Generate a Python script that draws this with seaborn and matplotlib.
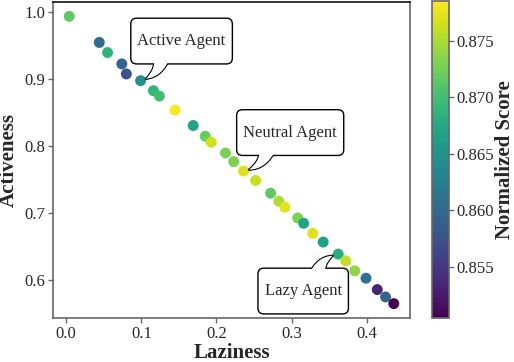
import numpy as np
import pandas as pd
import matplotlib
matplotlib.use("Agg")
import matplotlib.pyplot as plt
import seaborn as sns
from matplotlib.colors import Normalize
from matplotlib.cm import ScalarMappable

laziness = [0.004, 0.044, 0.055, 0.074, 0.080, 0.099, 0.116, 0.124, 0.145, 0.169,
            0.185, 0.193, 0.212, 0.223, 0.236, 0.252, 0.272, 0.283, 0.291, 0.308,
            0.316, 0.328, 0.342, 0.362, 0.372, 0.384, 0.399, 0.414, 0.425, 0.436]
activeness = [0.994, 0.955, 0.940, 0.923, 0.908, 0.898, 0.883, 0.875, 0.854, 0.831,
              0.815, 0.806, 0.790, 0.777, 0.763, 0.749, 0.730, 0.718, 0.709, 0.693,
              0.685, 0.670, 0.657, 0.639, 0.629, 0.614, 0.603, 0.586, 0.575, 0.565]
score = [0.8715, 0.8603, 0.8687, 0.8597, 0.8575, 0.8645, 0.8690, 0.8700, 0.8783, 0.8667,
         0.8720, 0.8765, 0.8729, 0.8730, 0.8770, 0.8760, 0.8715, 0.8750, 0.8772, 0.8730,
         0.8670, 0.8770, 0.8665, 0.8680, 0.8758, 0.8737, 0.8610, 0.8533, 0.8597, 0.8505]

annot_labels = ["Active Agent", "Neutral Agent", "Lazy Agent"]
annot_idx = [5, 14, 23]

vmin, vmax = 0.8505, 0.8785

df = pd.DataFrame({"Laziness": laziness, "Activeness": activeness, "Score": score})

sns.set_style("white")
plt.rcParams["font.family"] = ["Liberation Serif", "DejaVu Serif"]
plt.rcParams["mathtext.fontset"] = "stix"

fig = plt.figure(figsize=(5.14, 3.62), dpi=100)
ax = fig.add_axes([0.1031, 0.1215, 0.6946, 0.873])
cax = fig.add_axes([0.8405, 0.1215, 0.0321, 0.8757])

norm = Normalize(vmin=vmin, vmax=vmax)
sns.scatterplot(data=df, x="Laziness", y="Activeness", hue="Score", palette="viridis",
                hue_norm=norm, s=62, linewidth=0, legend=False, ax=ax, zorder=3)

ax.set_xlabel("Laziness", fontsize=15, fontweight="bold", labelpad=1)
ax.set_ylabel("Activeness", fontsize=15, fontweight="bold", labelpad=4)
ax.set_xticks([0.0, 0.1, 0.2, 0.3, 0.4])
ax.set_yticks([0.6, 0.7, 0.8, 0.9, 1.0])
ax.tick_params(axis="both", labelsize=12, length=3.5, width=1, color="#666666",
               direction="out", bottom=True, left=True, pad=2)
for side in ["left", "right", "bottom"]:
    ax.spines[side].set_color("#666666")
    ax.spines[side].set_linewidth(1.2)
ax.spines["top"].set_color("#111111")
ax.spines["top"].set_linewidth(1.2)

sm = ScalarMappable(norm=norm, cmap="viridis")
cb = fig.colorbar(sm, cax=cax)
cb.set_ticks([0.855, 0.860, 0.865, 0.870, 0.875])
cb.ax.tick_params(labelsize=12, length=3.5, width=1, color="#666666", pad=2)
cb.outline.set_edgecolor("#666666")
cb.outline.set_linewidth(1.2)
cb.set_label("Normalized Score", fontsize=15, fontweight="bold", labelpad=1)

text_offsets = [(29.5, 28.5), (33.6, 27.7), (-25.2, -26.6)]
conn = ["arc3,rad=-0.35", "arc3,rad=-0.35", "arc3,rad=-0.35"]
relpos = [(0.275, 0.06), (0.26, 0.06), (0.68, 0.94)]
box = "round,pad=0.4,rounding_size=0.35"
ls = 0.35
for lab, i, off, cs, rp in zip(annot_labels, annot_idx, text_offsets, conn, relpos):
    xy = (laziness[i], activeness[i])
    txt = "\n" + lab + "\n"
    ax.annotate(txt, xy=xy, xycoords="data",
                xytext=off, textcoords="offset points", fontsize=12,
                ha="center", va="center", linespacing=ls, zorder=5,
                bbox=dict(boxstyle=box, fc="white", ec="black", lw=1),
                arrowprops=dict(arrowstyle="wedge,tail_width=1.05", fc="white", ec="black",
                                lw=1.6, connectionstyle=cs, relpos=rp, patchA=None,
                                shrinkA=0, shrinkB=4))
    # white overlay of the tail base to merge it with the bubble
    ax.annotate(txt, xy=xy, xycoords="data", color="none",
                xytext=off, textcoords="offset points", fontsize=12,
                ha="center", va="center", linespacing=ls, zorder=6,
                bbox=dict(boxstyle=box, fc="none", ec="none", lw=1),
                arrowprops=dict(arrowstyle="wedge,tail_width=1.05", fc="white", ec="none",
                                lw=0, connectionstyle=cs, relpos=rp, patchA=None,
                                shrinkA=0, shrinkB=4))

fig.savefig("out.png", dpi=100)
